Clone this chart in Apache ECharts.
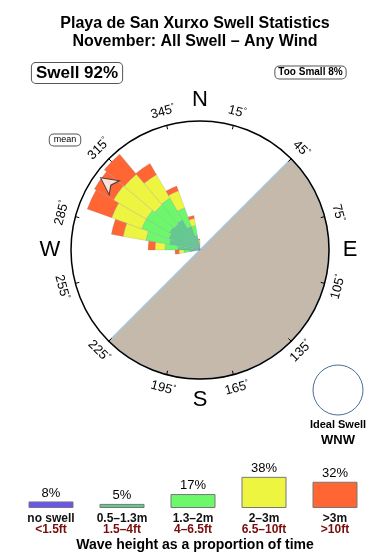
<!DOCTYPE html>
<html><head><meta charset="utf-8">
<script src="https://cdn.jsdelivr.net/npm/echarts@6/dist/echarts.min.js"></script>
<style>html,body{margin:0;padding:0;background:#fff}#c{width:390px;height:560px}</style>
</head><body><div id="c"></div>
<script>
const FONT = '"Liberation Sans", Arial, Helvetica, sans-serif';
const titleText = 'Playa de San Xurxo Swell Statistics\nNovember: All Swell – Any Wind';
const swellLabel = 'Swell 92%';
const tooSmallLabel = 'Too Small 8%';
const idealSwell = 'WNW';

// rose: direction bins (start of 10° bin) and stacked segment lengths per height band
const roseDirs = [260, 270, 280, 290, 300, 310, 320, 330, 340, 350];
const band05_13 = [1.0, 2.2, 3.1, 3.3, 3.5, 3.4, 3.5, 2.5, 1.5, 0.5];
const band13_2  = [0.6, 1.3, 2.4, 2.9, 2.7, 2.5, 2.5, 2.0, 1.0, 0.3];
const band2_3   = [0.5, 1.0, 2.3, 3.2, 3.8, 4.0, 2.7, 1.8, 0.7, 0.2];
const band3up   = [0.4, 0.7, 1.2, 2.6, 2.2, 2.6, 1.3, 0.5, 0.3, 0.1];
const meanDir = 306, meanRadius = 12.3;

// axis tick labels and compass points
const tickBearings = [15, 45, 75, 105, 135, 165, 195, 225, 255, 285, 315, 345];
const compassLetters = ['N', 'E', 'S', 'W'];
const compassBearings = [0, 90, 180, 270];

// legend: wave height proportions
const heightCats = ['no swell', '0.5–1.3m', '1.3–2m', '2–3m', '>3m'];
const heightFt = ['<1.5ft', '1.5–4ft', '4–6.5ft', '6.5–10ft', '>10ft'];
const heightPct = [8, 5, 17, 38, 32];

const COL = ['#6a55f2', '#5fcb8c', '#6cf86a', '#eef540', '#ff6633'];
const CX = 200, CY = 250, R = 129, RMAX = 12.9;

const angleCats = [];
for (let a = 0; a < 360; a += 10) angleCats.push(String(a));
function full(arr) {
  const out = new Array(36).fill(0);
  roseDirs.forEach((d, i) => { out[d / 10] = arr[i]; });
  return out;
}
function pt(b, r) {
  const t = b * Math.PI / 180;
  return [CX + r * Math.sin(t), CY - r * Math.cos(t)];
}
function rotFor(b) {
  let r = (b >= 270 || b <= 90) ? -b : 180 - b;
  while (r > 90) r -= 360;
  while (r <= -90) r += 360;
  return r * Math.PI / 180;
}

const graphics = [];
tickBearings.forEach(b => {
  const p = pt(b, 143);
  graphics.push({ type: 'text', x: p[0], y: p[1], rotation: rotFor(b), silent: true,
    style: { text: b + '{d|°}', fill: '#000', font: '13px ' + FONT, align: 'center', verticalAlign: 'middle',
      rich: { d: { fontSize: 8, fontFamily: FONT, padding: [0, 0, 6, 0] } } } });
});
compassLetters.forEach((L, i) => {
  const p = pt(compassBearings[i], 150);
  graphics.push({ type: 'text', x: p[0], y: p[1], silent: true,
    style: { text: L, fill: '#000', font: '22px ' + FONT, align: 'center', verticalAlign: 'middle' } });
});
graphics.push({ type: 'text', x: 77, y: 73, style: { text: swellLabel, fill: '#000', font: 'bold 17px ' + FONT,
  align: 'center', verticalAlign: 'middle', padding: [2, 4, 1, 4], borderColor: '#555', borderWidth: 1, borderRadius: 4, backgroundColor: '#fff' } });
graphics.push({ type: 'text', x: 310.5, y: 72.5, style: { text: tooSmallLabel, fill: '#000', font: 'bold 10px ' + FONT,
  align: 'center', verticalAlign: 'middle', padding: [1, 3, 1, 3], borderColor: '#555', borderWidth: 1, borderRadius: 4, backgroundColor: '#fff' } });
graphics.push({ type: 'text', x: 65, y: 140, style: { text: 'mean', fill: '#000', font: '9px ' + FONT,
  align: 'center', verticalAlign: 'middle', padding: [1, 4, 1, 4], borderColor: '#555', borderWidth: 1, borderRadius: 4, backgroundColor: '#fff' } });
graphics.push({ type: 'circle', shape: { cx: 338, cy: 390, r: 25 }, style: { fill: 'none', stroke: '#4b6d92', lineWidth: 1 } });
graphics.push({ type: 'text', x: 338, y: 425, style: { text: 'Ideal Swell', fill: '#000', font: 'bold 11px ' + FONT, align: 'center', verticalAlign: 'middle' } });
graphics.push({ type: 'text', x: 338, y: 440, style: { text: idealSwell, fill: '#000', font: 'bold 13px ' + FONT, align: 'center', verticalAlign: 'middle' } });
graphics.push({ type: 'text', x: 195, y: 545, style: { text: 'Wave height as a proportion of time', fill: '#000', font: 'bold 14px ' + FONT, align: 'center', verticalAlign: 'middle' } });

const roseBands = [band05_13, band13_2, band2_3, band3up];
const roseSeries = roseBands.map((arr, i) => ({
  type: 'bar', coordinateSystem: 'polar', polarIndex: 0, stack: 'rose', barCategoryGap: '0%',
  data: full(arr), z: 3, silent: true,
  itemStyle: { color: COL[i + 1], borderColor: 'rgba(130,130,170,0.45)', borderWidth: 0.5 }
}));

const chart = echarts.init(document.getElementById('c'), null, { renderer: 'canvas' });
chart.setOption({
  animation: false,
  backgroundColor: '#fff',
  title: { text: titleText, left: 'center', top: 10,
    textStyle: { fontSize: 16, fontWeight: 'bold', fontFamily: FONT, lineHeight: 18, color: '#000' } },
  polar: [ { center: [CX, CY], radius: R }, { center: [CX, CY], radius: R } ],
  angleAxis: [
    { polarIndex: 0, type: 'category', data: angleCats, startAngle: 90, clockwise: true, show: false },
    { polarIndex: 1, type: 'value', min: 0, max: 360, interval: 30, startAngle: 90, clockwise: true, z: 5,
      axisLine: { show: true, lineStyle: { color: '#000', width: 1.5 } },
      axisTick: { show: false, inside: true },
      minorTick: { show: true, splitNumber: 2, length: 4, lineStyle: { color: '#000', width: 1 } },
      axisLabel: { show: false }, splitLine: { show: false } }
  ],
  radiusAxis: [
    { polarIndex: 0, type: 'value', min: 0, max: RMAX, show: false },
    { polarIndex: 1, type: 'value', min: 0, max: RMAX, show: false }
  ],
  grid: { left: 15.5, top: 467, width: 355, height: 41 },
  xAxis: { type: 'category', data: heightCats, axisLine: { show: false }, axisTick: { show: false },
    axisLabel: { interval: 0, margin: 5, fontFamily: FONT,
      formatter: (v, i) => '{a|' + v + '}\n{b|' + heightFt[i] + '}',
      rich: { a: { fontSize: 12, fontWeight: 'bold', color: '#111', lineHeight: 11, fontFamily: FONT },
              b: { fontSize: 12, fontWeight: 'bold', color: '#7a0c0c', lineHeight: 11, fontFamily: FONT } } } },
  yAxis: { type: 'value', min: 0, max: 50, show: false },
  graphic: graphics,
  series: [
    { type: 'pie', center: [CX, CY], radius: R, startAngle: 45, clockwise: true, silent: true, z: 1,
      label: { show: false }, labelLine: { show: false }, emphasis: { disabled: true },
      data: [ { value: 180, itemStyle: { color: '#c5b9ac', borderColor: '#a4c6e2', borderWidth: 1.5 } },
              { value: 180, itemStyle: { color: 'rgba(0,0,0,0)', borderWidth: 0 } } ] },
    ...roseSeries,
    { type: 'scatter', coordinateSystem: 'polar', polarIndex: 1, z: 6, silent: true,
      data: [[meanRadius, meanDir]], symbol: 'arrow', symbolSize: [13, 17], symbolRotate: 360 - meanDir,
      itemStyle: { color: '#fff', borderColor: '#223', borderWidth: 1 } },
    { type: 'bar', xAxisIndex: 0, yAxisIndex: 0, barWidth: 45, silent: true,
      data: heightPct.map((v, i) => ({ value: v, itemStyle: { color: COL[i] } })),
      itemStyle: { borderColor: '#777', borderWidth: 1 },
      label: { show: true, position: 'top', distance: 2, fontSize: 13, fontFamily: FONT, color: '#000', formatter: '{c}%' } }
  ]
});
</script></body></html>
